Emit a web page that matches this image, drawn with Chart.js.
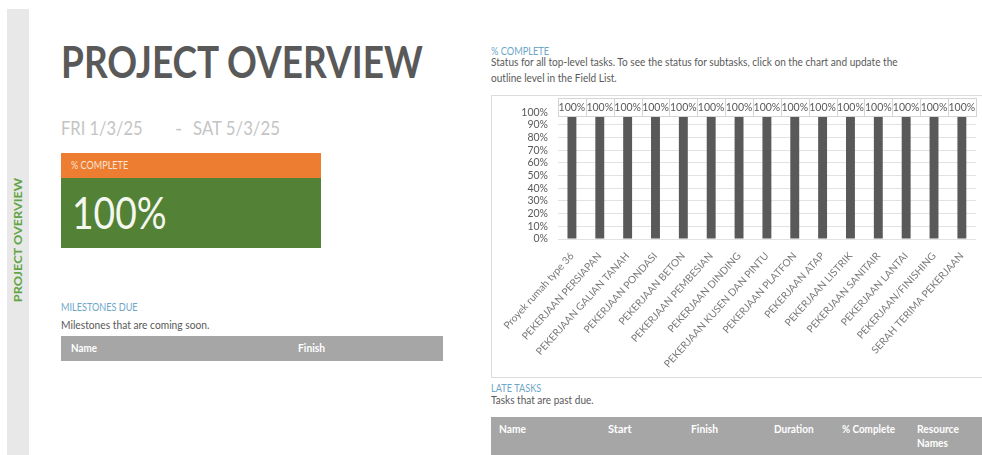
<!DOCTYPE html>
<html>
<head>
<meta charset="utf-8">
<script src="https://cdn.jsdelivr.net/npm/chart.js@4.4.1/dist/chart.umd.min.js"></script>
<style>
  html,body{margin:0;padding:0;background:#fff;}
  body{width:982px;height:455px;position:relative;overflow:hidden;font-family:Lato,"Open Sans",sans-serif;}
  .t{position:absolute;white-space:nowrap;line-height:1;transform-origin:0 0;display:inline-block;}
  .strip{position:absolute;left:7px;top:9px;width:22px;height:446px;background:#e8e8e8;}
  .blue{color:#6ea6c9;}
  .gray{color:#595959;}
  .hdr{color:#fff;font-weight:700;}
  #box{position:absolute;left:491px;top:95px;width:495px;height:281px;border:1px solid #dcdcdc;box-sizing:content-box;}
  #cv{position:absolute;left:492px;top:96px;}
</style>
</head>
<body>
<script>
// ---- data ----
const categories = ["Proyek rumah type 36","PEKERJAAN PERSIAPAN","PEKERJAAN GALIAN TANAH","PEKERJAAN PONDASI","PEKERJAAN BETON","PEKERJAAN PEMBESIAN","PEKERJAAN DINDING","PEKERJAAN KUSEN DAN PINTU","PEKERJAAN PLATFON","PEKERJAAN ATAP","PEKERJAAN LISTRIK","PEKERJAAN SANITAIR","PEKERJAAN LANTAI","PEKERJAAN/FINISHING","SERAH TERIMA PEKERJAAN"];
const percentComplete = [100,100,100,100,100,100,100,100,100,100,100,100,100,100,100];
const yTickStep = 10;
const yMin = 0;
const yMax = 100;
const overallComplete = "100%";
const lateTaskColumns = ["Name","Start","Finish","Duration","% Complete"];
</script>

<div class="strip"></div>
<div class="t" id="vert" style="font-size:12px;font-weight:700;color:#62a544;">PROJECT OVERVIEW</div>

<div class="t" data-w="362" style="left:61px;top:40px;font-size:43px;font-weight:700;color:#595959;">PROJECT OVERVIEW</div>
<div class="t" data-w="82" style="left:61px;top:117.7px;font-size:19.5px;color:#c4c4c4;">FRI 1/3/25</div>
<div class="t" data-w="7" style="left:175px;top:117.7px;font-size:19.5px;color:#c4c4c4;">-</div>
<div class="t" data-w="87" style="left:193px;top:117.7px;font-size:19.5px;color:#c4c4c4;">SAT 5/3/25</div>

<div style="position:absolute;left:61px;top:153px;width:260px;height:25px;background:#ed7d31;"></div>
<div style="position:absolute;left:61px;top:178px;width:260px;height:70px;background:#538135;"></div>
<div class="t" data-w="57" style="left:71px;top:160.2px;font-size:10.5px;color:#fbe3d3;">% COMPLETE</div>
<div class="t" id="bigpct" data-w="95" style="left:72px;top:190.4px;font-size:44.7px;color:#f4f7f0;"></div>

<div class="t blue" data-w="77" style="left:61px;top:301px;font-size:11px;">MILESTONES DUE</div>
<div class="t gray" data-w="148" style="left:61px;top:318.6px;font-size:11px;">Milestones that are coming soon.</div>
<div style="position:absolute;left:61px;top:336px;width:382px;height:25px;background:#a6a6a6;"></div>
<div class="t hdr" data-w="26" style="left:71px;top:342.1px;font-size:11px;">Name</div>
<div class="t hdr" data-w="27" style="left:298px;top:342.1px;font-size:11px;">Finish</div>

<div class="t blue" data-w="58" style="left:491px;top:46.2px;font-size:10.5px;">% COMPLETE</div>
<div class="t gray" data-w="407" style="left:491px;top:55.5px;font-size:11.5px;">Status for all top-level tasks. To see the status for subtasks, click on the chart and update the</div>
<div class="t gray" data-w="126" style="left:491px;top:71.5px;font-size:11.5px;">outline level in the Field List.</div>

<div id="box"></div>
<canvas id="cv" width="490" height="280"></canvas>

<div class="t blue" data-w="50" style="left:491px;top:383.2px;font-size:10.5px;">LATE TASKS</div>
<div class="t gray" data-w="103" style="left:491px;top:394px;font-size:11px;">Tasks that are past due.</div>
<div style="position:absolute;left:491px;top:417px;width:491px;height:38px;background:#a6a6a6;"></div>
<div id="lateHdr"></div>
<div class="t hdr" data-w="42" style="left:917px;top:423.1px;font-size:11px;">Resource</div>
<div class="t hdr" data-w="31" style="left:917px;top:437.1px;font-size:11px;">Names</div>

<script>
document.getElementById('bigpct').textContent = overallComplete;
// late task headers
(function(){
  const xs = [499,608,691,774,842];
  const ws = [27,24,27,40,53];
  const host = document.getElementById('lateHdr');
  lateTaskColumns.forEach((c,i)=>{
    const d = document.createElement('div');
    d.className='t hdr';
    d.dataset.w = ws[i];
    d.style.cssText = `left:${xs[i]}px;top:423.1px;font-size:11px;`;
    d.textContent = c;
    host.appendChild(d);
  });
})();

function fit(){
  document.querySelectorAll('[data-w]').forEach(el=>{
    const w = el.offsetWidth;
    if (w>0) el.style.transform = `scaleX(${(+el.dataset.w)/w})`;
  });
  const v = document.getElementById('vert');
  const w = v.offsetWidth, h = v.offsetHeight;
  v.style.left = (17.5 - w/2) + 'px';
  v.style.top = (240 - h/2) + 'px';
  v.style.transformOrigin = '50% 50%';
  v.style.transform = `rotate(-90deg) scaleX(${124/w})`;
}
fit();
if (document.fonts && document.fonts.ready) document.fonts.ready.then(fit);

const labelBoxes = {
  id:'labelBoxes',
  afterDatasetsDraw(chart){
    const ctx = chart.ctx;
    const meta = chart.getDatasetMeta(0);
    const xs = chart.scales.x;
    const cw = xs.width / categories.length;
    ctx.save();
    ctx.font = '10.5px Lato';
    ctx.textAlign='center';
    ctx.textBaseline='middle';
    meta.data.forEach((bar,i)=>{
      const left = Math.round(bar.x - cw/2) + 0.5;
      const top = Math.round(bar.y - 14) + 0.5;
      ctx.fillStyle='#ffffff';
      ctx.fillRect(left, top, cw, 18);
      ctx.strokeStyle='#d4d4d4';
      ctx.lineWidth=1;
      ctx.strokeRect(left, top, Math.round(cw), 18);
      ctx.fillStyle='#595959';
      ctx.fillText(percentComplete[i] + '%', bar.x, bar.y - 5);
    });
    ctx.restore();
  }
};

new Chart(document.getElementById('cv'), {
  type:'bar',
  data:{
    labels:categories,
    datasets:[{data:percentComplete, backgroundColor:'#595959', categoryPercentage:1, barPercentage:0.32}]
  },
  options:{
    responsive:false,
    animation:false,
    devicePixelRatio:1,
    layout:{padding:{top:15,right:1,left:0,bottom:0}},
    plugins:{legend:{display:false}, tooltip:{enabled:false}},
    scales:{
      x:{
        grid:{display:false, drawTicks:false},
        border:{display:false},
        ticks:{autoSkip:false, minRotation:48, maxRotation:48, padding:11, color:'#7a7a7a', font:{family:'Lato', size:10.2}},
        afterFit(s){ s.height = 137; }
      },
      y:{
        min:yMin, max:yMax,
        ticks:{autoSkip:false, stepSize:yTickStep, callback:v=>v+'%', padding:10, color:'#595959', font:{family:'Lato', size:10.5}},
        grid:{color:'#e2e2e2', drawTicks:false},
        border:{display:false},
        afterFit(s){ s.width = 66; }
      }
    }
  },
  plugins:[labelBoxes]
});
</script>
</body>
</html>
